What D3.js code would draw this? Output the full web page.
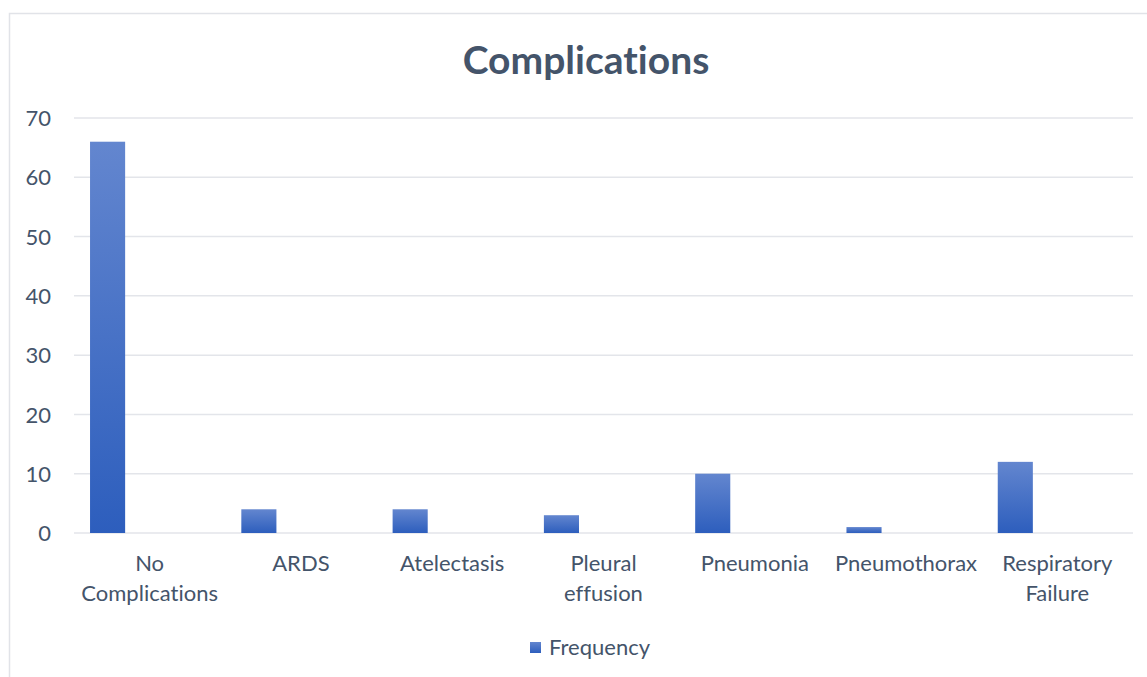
<!DOCTYPE html>
<html>
<head>
<meta charset="utf-8">
<script src="https://cdn.jsdelivr.net/npm/d3@7"></script>
<style>
  html, body { margin: 0; padding: 0; background: #ffffff; }
  svg { display: block; }
  svg text { font-variant-ligatures: none; font-feature-settings: "liga" 0, "clig" 0, "dlig" 0; letter-spacing: 0.01px; }
</style>
</head>
<body>
<svg id="chart" width="1147" height="677"></svg>
<script>
// Complication counts per category
const categories = [
  ["No", "Complications"],
  ["ARDS"],
  ["Atelectasis"],
  ["Pleural", "effusion"],
  ["Pneumonia"],
  ["Pneumothorax"],
  ["Respiratory", "Failure"]
];
const frequency = [66, 4, 4, 3, 10, 1, 12];
const yTicks = [0, 10, 20, 30, 40, 50, 60, 70];
const seriesName = "Frequency";
const chartTitle = "Complications";

const W = 1147, H = 677;
const textColor = "#44546a";
const gridColor = "#e3e5ea";
const fontFamily = "Lato, 'Open Sans', sans-serif";
const labelSize = 22;

const svg = d3.select("#chart");

// Chart area frame
svg.append("rect")
  .attr("x", 9.5).attr("y", 13.5)
  .attr("width", 1160).attr("height", 700)
  .attr("fill", "#ffffff")
  .attr("stroke", "#e1e3e8").attr("stroke-width", 1.5);

const plot = { left: 74, right: 1133, top: 118, bottom: 533 };

const x = d3.scaleBand()
  .domain(d3.range(categories.length))
  .range([plot.left, plot.right])
  .paddingInner(0).paddingOuter(0);

const y = d3.scaleLinear()
  .domain([0, 70])
  .range([plot.bottom, plot.top]);

// Bar gradient, lighter at the top
const defs = svg.append("defs");
const grad = defs.append("linearGradient")
  .attr("id", "barGrad")
  .attr("x1", 0).attr("y1", 0).attr("x2", 0).attr("y2", 1);
grad.append("stop").attr("offset", "0%").attr("stop-color", "#6386cf");
grad.append("stop").attr("offset", "100%").attr("stop-color", "#2d5ebd");

// Horizontal gridlines
svg.append("g")
  .selectAll("line")
  .data(yTicks)
  .join("line")
  .attr("x1", plot.left).attr("x2", plot.right)
  .attr("y1", d => y(d)).attr("y2", d => y(d))
  .attr("stroke", gridColor).attr("stroke-width", 1.5);

// Y axis labels
const yAxis = d3.axisLeft(y).tickValues(yTicks).tickSize(0).tickPadding(0);
const yG = svg.append("g")
  .attr("transform", `translate(51,0)`)
  .call(yAxis);
yG.select(".domain").remove();
yG.selectAll("text")
  .attr("fill", textColor)
  .attr("font-family", fontFamily)
  .attr("font-size", labelSize)
  .attr("dy", "0.35em");

// Bars: sit in the left part of each category slot
const barOffset = x.bandwidth() * 0.106;
const barWidth = x.bandwidth() * 0.232;
svg.append("g")
  .selectAll("rect")
  .data(frequency)
  .join("rect")
  .attr("x", (d, i) => x(i) + barOffset)
  .attr("y", d => y(d))
  .attr("width", barWidth)
  .attr("height", d => y(0) - y(d))
  .attr("fill", "url(#barGrad)");

// Category labels (possibly two lines)
const catG = svg.append("g");
categories.forEach((lines, i) => {
  const t = catG.append("text")
    .attr("x", x(i) + x.bandwidth() / 2)
    .attr("y", 571)
    .attr("text-anchor", "middle")
    .attr("fill", textColor)
    .attr("font-family", fontFamily)
    .attr("font-size", labelSize);
  lines.forEach((ln, k) => {
    t.append("tspan")
      .attr("x", x(i) + x.bandwidth() / 2)
      .attr("dy", k === 0 ? 0 : 30)
      .text(ln);
  });
});

// Title
svg.append("text")
  .attr("x", 586).attr("y", 74)
  .attr("text-anchor", "middle")
  .attr("fill", textColor)
  .attr("font-family", fontFamily)
  .attr("font-weight", "bold")
  .attr("font-size", 39)
  .text(chartTitle);

// Legend
const legend = svg.append("g");
legend.append("rect")
  .attr("x", 530).attr("y", 642)
  .attr("width", 11).attr("height", 11)
  .attr("fill", "url(#barGrad)");
legend.append("text")
  .attr("x", 549).attr("y", 655)
  .attr("fill", textColor)
  .attr("font-family", fontFamily)
  .attr("font-size", labelSize)
  .text(seriesName);
</script>
</body>
</html>
